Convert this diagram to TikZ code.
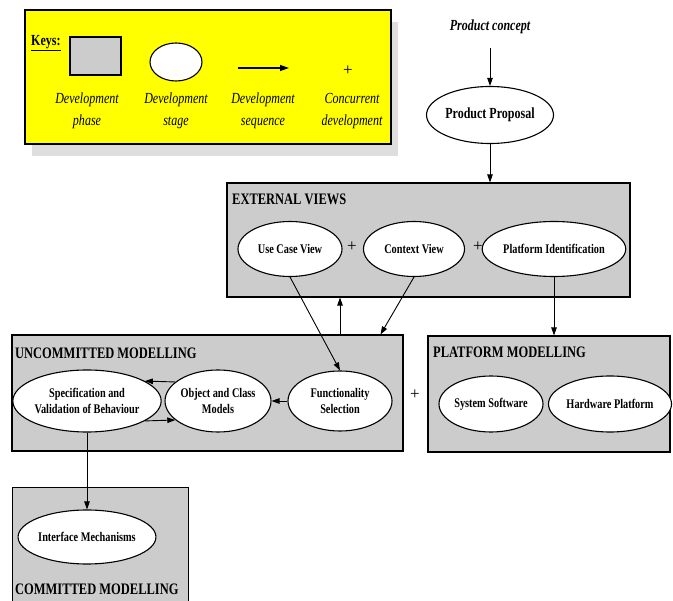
\documentclass[tikz,border=0pt]{standalone}
\usepackage{fontspec}
\setmainfont[FakeStretch=0.78]{Liberation Serif}
\newfontfamily\plusfont{Liberation Serif}
\usetikzlibrary{shapes.geometric,arrows.meta,calc}
\definecolor{boxgray}{RGB}{204,204,204}
\definecolor{shadowgray}{RGB}{222,222,222}
\definecolor{keyyellow}{RGB}{255,255,0}
\begin{document}
\begin{tikzpicture}[x=1pt,y=-1pt,
 phasebox/.style={draw, line width=1.1pt, fill=boxgray, rectangle, inner sep=0pt},
 stagenode/.style={draw, line width=1.1pt, fill=white, ellipse, inner sep=0pt, align=center, font=\fontsize{13.2}{16.5}\selectfont\bfseries},
 titletext/.style={font=\fontsize{16}{18}\selectfont\bfseries, anchor=west, inner sep=0pt},
 keytext/.style={font=\fontsize{15.4}{22}\selectfont\itshape, align=center, inner sep=0pt},
 plustext/.style={font=\plusfont\fontsize{17}{18}\selectfont, inner sep=0pt},
 seq/.style={-{Triangle[length=8pt,width=5.5pt]}, line width=0.9pt},
]
\useasboundingbox (0,0) rectangle (673,601);

% ---------- Keys ----------
\fill[shadowgray] (32,22) rectangle (398,156);
\node[draw, line width=1.1pt, fill=keyyellow, minimum width=366pt, minimum height=134pt, inner sep=0pt] (keys) at (208,77) {};
\node[font=\fontsize{15.4}{17}\selectfont\bfseries, anchor=west, inner sep=0pt] (keystitle) at (31,43) {\underline{Keys:}};
\node[phasebox, minimum width=51pt, minimum height=38pt] (kphase) at (95.5,56) {};
\node[draw, line width=1.1pt, fill=white, ellipse, minimum width=52pt, minimum height=38pt, inner sep=0pt] (kstage) at (176,62) {};
\coordinate (kas) at (238,68);
\coordinate (kae) at (289,68);
\draw[-{Triangle[length=9pt,width=6pt]}, line width=1.2pt] (kas) -- (kae);
\node[plustext] (kplus) at (348,71) {+};
\node[keytext] (kl1) at (87,111) {Development\\phase};
\node[keytext] (kl2) at (176,111) {Development\\stage};
\node[keytext] (kl3) at (263,111) {Development\\sequence};
\node[keytext] (kl4) at (352,111) {Concurrent\\development};

% ---------- Product ----------
\node[font=\fontsize{15.4}{17}\selectfont\bfseries\itshape, inner sep=0pt] (pc) at (490,27) {Product concept};
\node[stagenode, font=\fontsize{15.4}{17}\selectfont\bfseries, minimum width=127pt, minimum height=57pt] (pp) at (490,115) {Product Proposal};

% ---------- Boxes ----------
\node[phasebox, minimum width=403pt, minimum height=114pt] (ev) at (428.5,240) {};
\node[titletext] (evt) at (232,199) {EXTERNAL VIEWS};
\node[phasebox, minimum width=391pt, minimum height=116pt] (um) at (207.5,393) {};
\node[titletext] (umt) at (15,353) {UNCOMMITTED MODELLING};
\node[phasebox, minimum width=242pt, minimum height=116pt] (pm) at (549,394) {};
\node[titletext] (pmt) at (433,352) {PLATFORM MODELLING};
\node[fill=boxgray, minimum width=175pt, minimum height=118pt, inner sep=0pt] (cm) at (100.5,547) {};
\draw[line width=1.1pt] (cm.south west) -- (cm.north west) -- (cm.north east) -- (cm.south east);
\node[titletext] (cmt) at (15,589) {COMMITTED MODELLING};

% ---------- Stages ----------
\node[stagenode, minimum width=104pt, minimum height=55pt] (ucv) at (290,249) {Use Case View};
\node[stagenode, minimum width=101pt, minimum height=55pt] (cv) at (414,249) {Context View};
\node[stagenode, minimum width=126pt, minimum height=55pt] (pi) at (554,249) {Platform Identification};
\node[plustext] (p1) at (352,247) {+};
\node[plustext] (p2) at (478,247) {+};

\node[stagenode, minimum width=126pt, minimum height=62pt] (spec) at (87,401) {Specification and\\Validation of Behaviour};
\node[stagenode, minimum width=100pt, minimum height=62pt] (ocm) at (218,401) {Object and Class\\Models};
\node[stagenode, minimum width=104pt, minimum height=60pt] (fs) at (340,401) {Functionality\\Selection};
\node[plustext] (p3) at (415,395) {+};

\node[stagenode, minimum width=104pt, minimum height=56pt] (ss) at (491,404) {System Software};
\node[stagenode, minimum width=112pt, minimum height=56pt] (hp) at (610,404) {Hardware Platform};

\node[stagenode, minimum width=126pt, minimum height=54pt] (im) at (87,537) {Interface Mechanisms};

% ---------- Connectors ----------
\draw[seq, shorten <=14pt] (pc.south) -- (pp.north);
\draw[seq] (pp.south) -- (pp.south |- ev.north);
\draw[seq] (ucv.south) -- (fs.north);
\coordinate (umin) at ($(um.north east)+(-23,0)$);
\draw[seq] (cv.south) -- (umin);
\draw[seq] (fs.north |- um.north) -- (fs.north |- ev.south);
\draw[seq] (pi.south) -- (pi.south |- pm.north);
\draw[seq] (ocm.156) -- (spec.19);
\draw[seq] (spec.-19) -- (ocm.-156);
\draw[seq] (fs.west) -- (ocm.east);
\draw[seq] (spec.south) -- (im.north);
\end{tikzpicture}
\end{document}
